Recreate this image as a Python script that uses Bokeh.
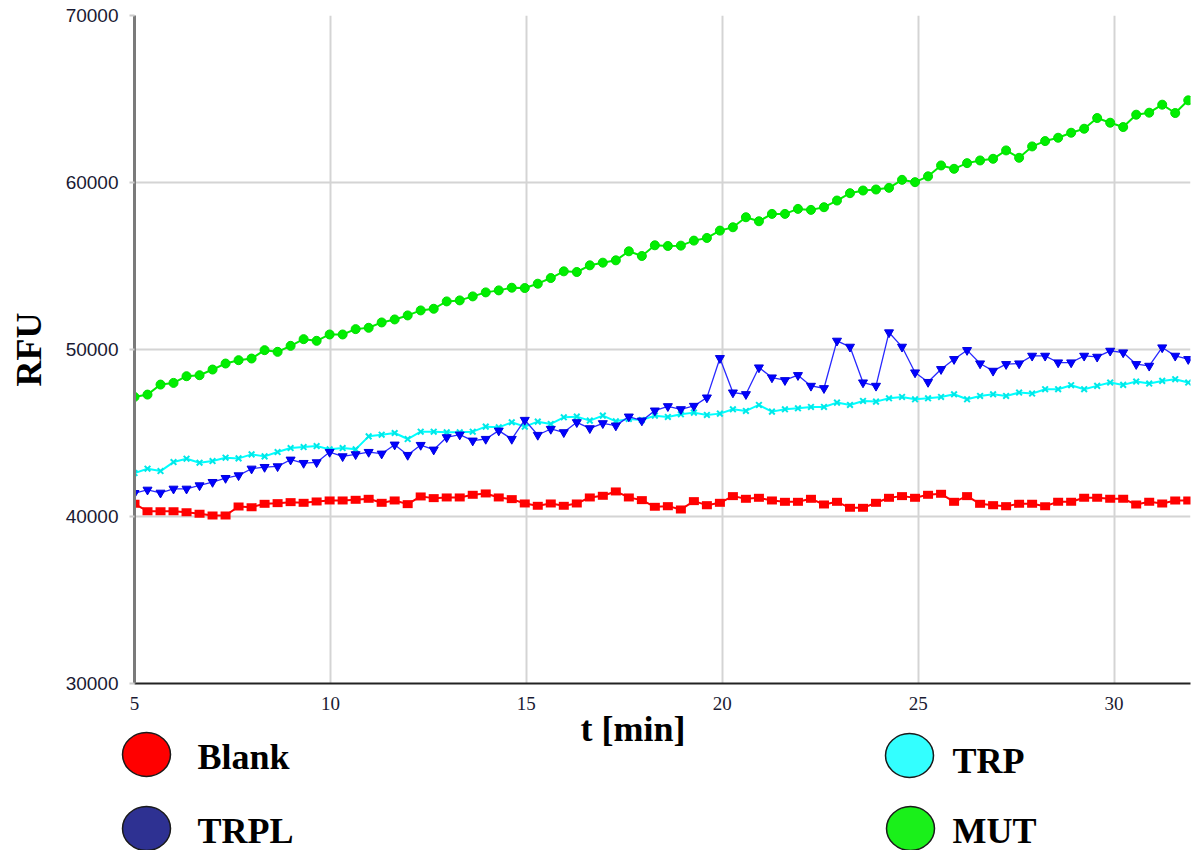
from bokeh.plotting import figure
from bokeh.models import Range1d, FixedTicker, ColumnDataSource
from bokeh.layouts import column
from bokeh.embed import file_html
from bokeh.resources import INLINE
from bokeh.core.properties import value

# sampling: one reading about every 0.332 min, starting at 5 min
step_min = 0.332
t_min = [round(5 + i * step_min, 3) for i in range(82)]

blank = [40760, 40320, 40320, 40320, 40260, 40160, 40060, 40060, 40600, 40560,
         40760, 40800, 40860, 40820, 40900, 40960, 40960, 41000, 41060, 40820,
         40960, 40740, 41200, 41100, 41140, 41140, 41300, 41380, 41140, 41040,
         40780, 40640, 40780, 40640, 40780, 41140, 41240, 41500, 41140, 40980,
         40580, 40620, 40420, 40920, 40680, 40820, 41220, 41060, 41120, 40960,
         40880, 40880, 41060, 40720, 40880, 40520, 40520, 40820, 41120, 41220,
         41120, 41300, 41360, 40880, 41220, 40760, 40680, 40620, 40760, 40760,
         40620, 40880, 40880, 41120, 41120, 41060, 41060, 40720, 40880, 40780,
         40960, 40960]

trp = [42600, 42860, 42720, 43260, 43460, 43220, 43320, 43520, 43480, 43720,
       43600, 43860, 44100, 44160, 44220, 44020, 44100, 44020, 44800, 44900,
       45000, 44640, 45080, 45080, 45040, 45040, 45080, 45380, 45340, 45640,
       45380, 45680, 45540, 45940, 45980, 45740, 46040, 45700, 45840, 45780,
       46040, 45960, 46120, 46220, 46080, 46160, 46420, 46320, 46680, 46280,
       46420, 46480, 46560, 46560, 46820, 46680, 46920, 46880, 47080, 47160,
       47020, 47080, 47160, 47320, 47020, 47220, 47320, 47220, 47420, 47360,
       47620, 47620, 47860, 47620, 47820, 48020, 47880, 48080, 47960, 48120,
       48220, 48020]

trpl = [41400, 41600, 41420, 41660, 41660, 41860, 42060, 42300, 42460, 42860,
        42960, 43000, 43400, 43200, 43240, 43860, 43600, 43720, 43860, 43760,
        44300, 43680, 44280, 44000, 44740, 44900, 44540, 44640, 45140, 44640,
        45780, 44880, 45240, 45040, 45640, 45280, 45580, 45440, 45980, 45740,
        46340, 46600, 46420, 46620, 47120, 49480, 47420, 47320, 48920, 48320,
        48160, 48460, 47820, 47680, 50520, 50160, 48020, 47820, 51020, 50160,
        48620, 48050, 48820, 49420, 49960, 49160, 48720, 49120, 49160, 49620,
        49620, 49220, 49220, 49620, 49560, 49920, 49820, 49120, 49020, 50120,
        49620, 49420]

mut = [47160, 47300, 47900, 48000, 48400, 48460, 48800, 49160, 49360, 49460,
       49960, 49860, 50220, 50620, 50520, 50900, 50900, 51220, 51300, 51620,
       51800, 52040, 52340, 52440, 52880, 52940, 53180, 53420, 53540, 53700,
       53680, 53940, 54280, 54680, 54640, 55040, 55200, 55340, 55880, 55600,
       56240, 56200, 56220, 56520, 56680, 57120, 57320, 57920, 57680, 58120,
       58120, 58420, 58360, 58520, 58920, 59360, 59520, 59580, 59680, 60160,
       60020, 60370, 61020, 60820, 61160, 61320, 61420, 61920, 61480, 62160,
       62480, 62680, 62980, 63220, 63860, 63580, 63320, 64060, 64180, 64660,
       64160, 64920]

x_ticks = [5, 10, 15, 20, 25, 30]
y_ticks = [30000, 40000, 50000, 60000, 70000]

series_names = ["Blank", "TRPL", "TRP", "MUT"]
legend_colors = ["#FF0000", "#2E3192", "#33FFFF", "#1AF01A"]

src = ColumnDataSource(dict(t=t_min, blank=blank, trpl=trpl, trp=trp, mut=mut))

p = figure(width=1195, height=716, x_range=Range1d(5, 31.95), y_range=Range1d(30000, 70000),
           output_backend="svg", toolbar_location=None,
           min_border_left=134, min_border_right=5, min_border_top=15, min_border_bottom=33)
p.background_fill_color = "white"
p.border_fill_color = "white"
p.outline_line_color = None

# grid
p.xgrid.ticker = FixedTicker(ticks=x_ticks)
p.ygrid.ticker = FixedTicker(ticks=y_ticks)
for g in (p.xgrid, p.ygrid):
    g.grid_line_color = "#d4d4d4"
    g.grid_line_width = 2

# axes
xa = p.xaxis[0]
xa.ticker = FixedTicker(ticks=x_ticks)
xa.axis_line_color = "#222222"
xa.axis_line_width = 2
xa.major_tick_out = 0
xa.major_tick_in = 0
xa.minor_tick_out = 0
xa.minor_tick_in = 0
xa.major_label_text_font = "Liberation Serif"
xa.major_label_text_font_size = "19px"
xa.major_label_text_color = "#1a1a33"
xa.major_label_standoff = 13

ya = p.yaxis[0]
ya.ticker = FixedTicker(ticks=y_ticks)
ya.axis_line_color = "#7a7a7a"
ya.axis_line_width = 3
ya.major_tick_out = 5
ya.major_tick_in = 0
ya.major_tick_line_color = "#cccccc"
ya.major_tick_line_width = 2
ya.minor_tick_out = 0
ya.minor_tick_in = 0
ya.major_label_text_font = "Liberation Sans"
ya.major_label_text_font_size = "19px"
ya.major_label_text_color = "#1a1a33"
ya.major_label_standoff = 11
ya.axis_label = "RFU"
ya.axis_label_text_font = "Liberation Serif"
ya.axis_label_text_font_style = "bold"
ya.axis_label_text_font_size = "36px"
ya.axis_label_text_color = "black"
ya.axis_label_standoff = 14

# series
p.line("t", "blank", source=src, line_color="#FF0000", line_width=2)
p.rect("t", "blank", width=10, height=8, width_units="screen", height_units="screen",
       source=src, fill_color="#FF0000", line_color=None)

p.line("t", "trp", source=src, line_color="#00FFFF", line_width=2)
p.scatter("t", "trp", source=src, marker="x", size=8, line_color="#00E8E8", line_width=2)

p.line("t", "trpl", source=src, line_color="#2828FF", line_width=1.3)
p.scatter("t", "trpl", source=src, marker="inverted_triangle", size=9,
          fill_color="#0000FF", line_color="#0000DD")

p.line("t", "mut", source=src, line_color="#00EE00", line_width=2)
p.scatter("t", "mut", source=src, marker="circle", size=9, fill_color="#00EE00", line_color="#00DD00")

# legend / x-axis title strip (own pixel-like coordinate space), overlapping the
# main figure's bottom border slightly so that nothing is cut
leg = figure(width=1195, height=150, x_range=Range1d(0, 1195), y_range=Range1d(150, 0),
             output_backend="svg", toolbar_location=None, x_axis_type=None, y_axis_type=None,
             min_border_left=0, min_border_right=0, min_border_top=0, min_border_bottom=0)
leg.frame_align = False
leg.margin = (-16, 0, 0, 0)
leg.grid.visible = False
leg.outline_line_color = None
leg.background_fill_color = None
leg.border_fill_color = None

lsrc = ColumnDataSource(dict(
    cx=[146, 146, 909, 910], cy=[54, 128, 55, 128],
    tx=[197, 197, 952, 952], ty=[56.5, 130, 60, 130],
    name=series_names, color=legend_colors))
leg.ellipse(x="cx", y="cy", width=48, height=44, source=lsrc, fill_color="color",
            line_color="#1a1a1a", line_width=1.5)
leg.text(x="tx", y="ty", text="name", source=lsrc, text_font=value("Liberation Serif"),
         text_font_style="bold", text_font_size="36px", text_color="black",
         text_baseline="middle", text_align="left")
leg.text(x=[580], y=[28], text=["t [min]"], text_font=value("Liberation Serif"),
         text_font_style="bold", text_font_size="36px", text_color="black",
         text_baseline="middle", text_align="left")

layout = column(p, leg, spacing=0)
open("out.html", "w").write(file_html(layout, INLINE))
